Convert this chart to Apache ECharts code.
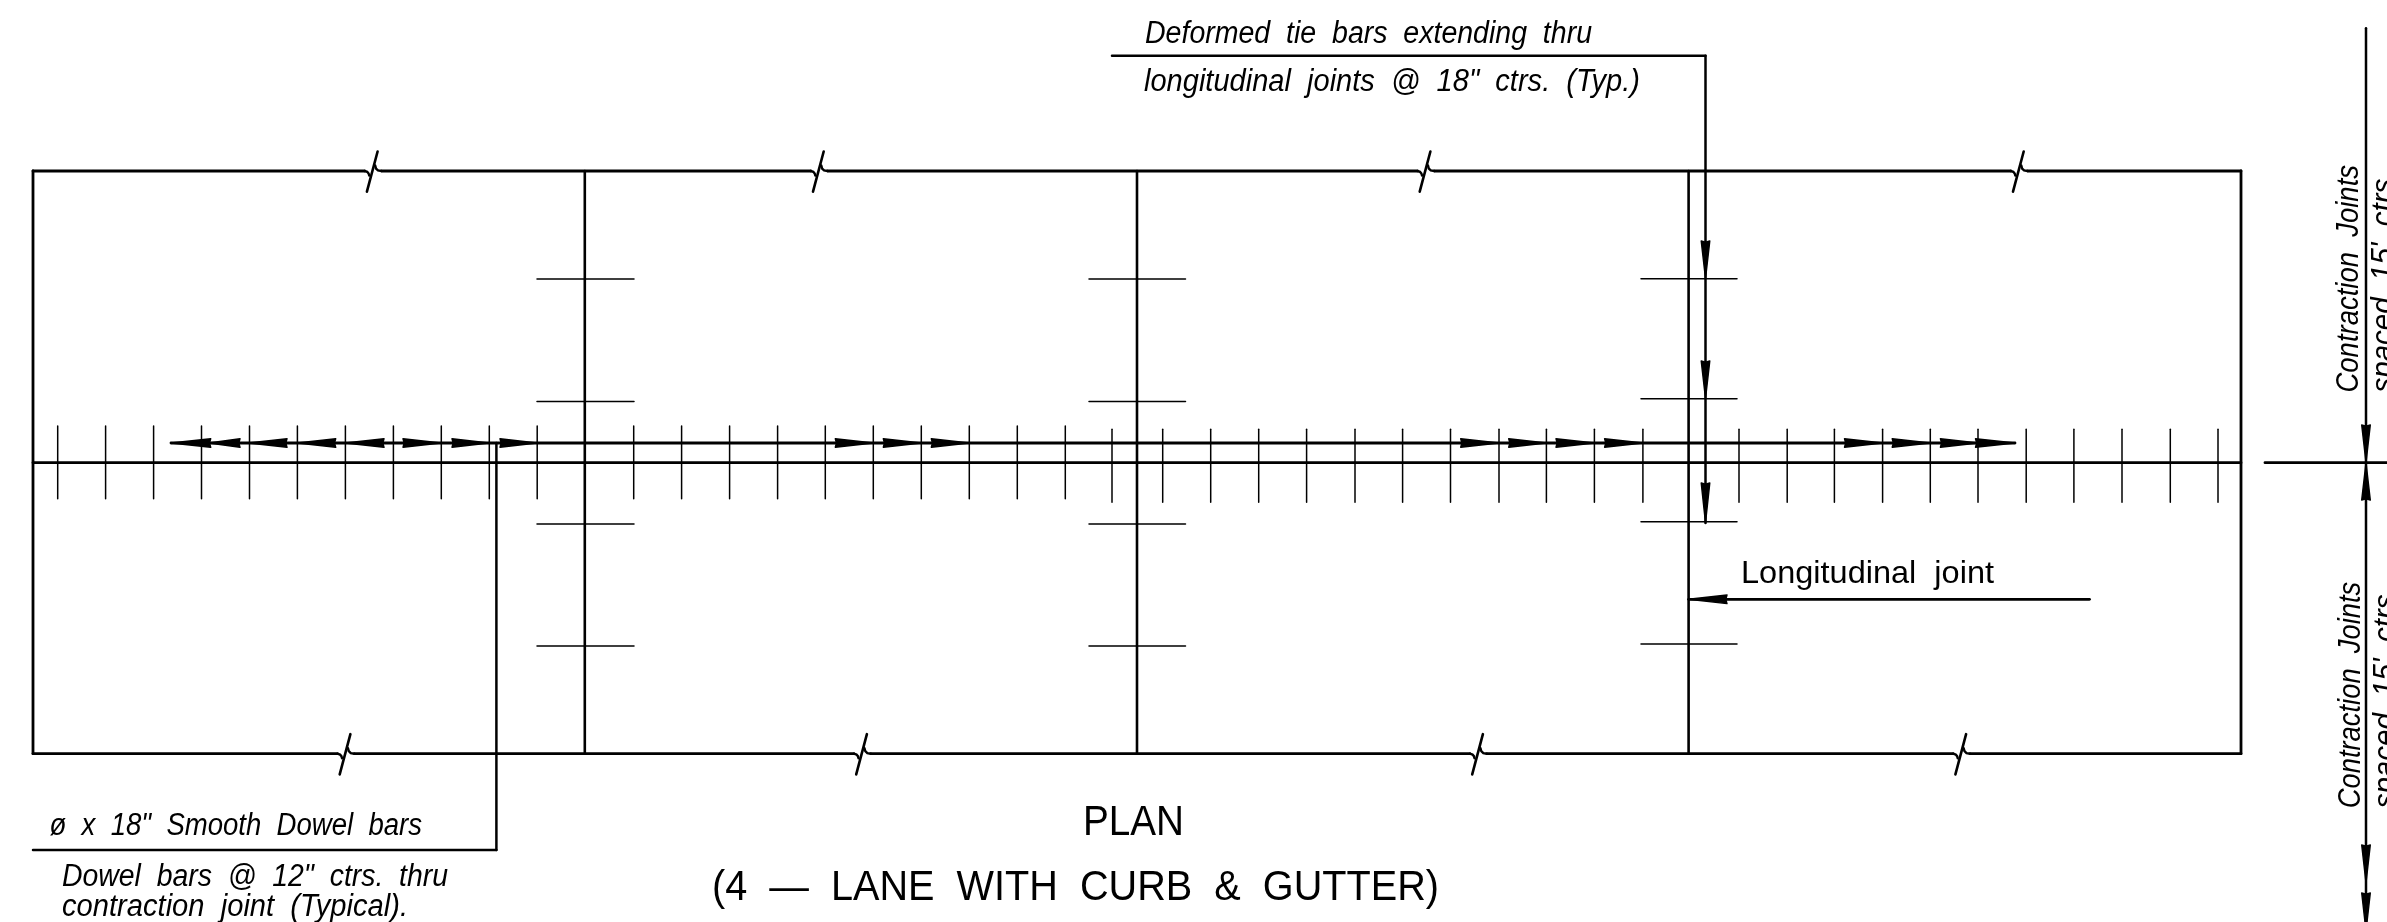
<!DOCTYPE html>
<html>
<head>
<meta charset="utf-8">
<style>html,body{margin:0;padding:0;background:#fff;overflow:hidden}#c{width:2387px;height:922px}</style>
<script src="https://cdn.jsdelivr.net/npm/echarts@6/dist/echarts.min.js"></script>
</head>
<body>
<div id="c"></div>
<script>
var slabX = [33, 2241];
var slabY = [171, 753.7];
var centreLineY = 462.7;
var dowelBarY = 443;
var jointX = [584.8, 1137, 1688.6];
var topBreakX = [372.2, 818.3, 1425, 2018.3];
var bottomBreakX = [345, 861.5, 1477.5, 1960.7];
var dowelTicksA = [57.7,105.6,153.6,201.5,249.5,297.4,345.4,393.4,441.3,489.3,537.2,633.7,681.6,729.6,777.6,825.3,873.3,921.3,969.3,1017.3,1065.3];
var dowelTicksB = [1112,1162.7,1210.7,1258.7,1306.6,1355,1402.6,1450.5,1499,1546.4,1594.4,1642.9,1739,1787.2,1834.4,1882.6,1930.3,1978,2026.2,2073.9,2122,2170.3,2218];
var tieBars = [
  [537, 634, 279], [537, 634, 401.5], [537, 634, 524], [537, 634, 646],
  [1089, 1185.5, 279], [1089, 1185.5, 401.5], [1089, 1185.5, 524], [1089, 1185.5, 646],
  [1641, 1737, 278.7], [1641, 1737, 398.7], [1641, 1737, 521.7], [1641, 1737, 644]
];
var dowelArrows = [
  [171,210.7],[209,240],[248.5,287],[297.4,335.7],[345.4,384],
  [441,403],[489,452],[537,500],
  [873.3,835.3],[921.3,883.3],[969.3,931.3],
  [1499,1460.7],[1546.4,1508.7],[1594.4,1556],[1642.9,1604.6],
  [1882.6,1844.5],[1930.3,1892.2],[1978,1940.4],[2015,1975.5]
];
var leaderArrows = [
  [1705.5,278.7,1705.5,241],[1705.5,398.7,1705.5,361],[1705.5,523,1705.5,483],
  [1688.6,599.3,1727,599.3],
  [2366,462.7,2366,425],[2366,462.7,2366,500],[2366,883,2366,845],[2366,931,2366,893]
];
var heavySegments = [
  [171,443,2015,443],
  [33,462.7,2241,462.7],
  [2265,462.7,2387,462.7],
  [1688.6,599.3,2089.5,599.3],
  [33,171,33,753.7],
  [2241,171,2241,753.7]
];
var mediumSegments = [
  [1112,55.7,1705.5,55.7],[1705.5,55.7,1705.5,523],
  [496.4,443,496.4,850],[33,850,496.4,850],
  [2366,28.3,2366,922]
];
var italicLabels = [
  ['Deformed  tie  bars  extending  thru', 1145, 34, 447],
  ['longitudinal  joints  @  18"  ctrs.  (Typ.)', 1144, 82, 496],
  ['ø  x  18"  Smooth  Dowel  bars', 49.5, 826, 372.5],
  ['Dowel  bars  @  12"  ctrs.  thru', 62, 877, 386],
  ['contraction  joint  (Typical).', 62, 907.5, 346]
];
var uprightLabels = [
  ['Longitudinal  joint', 1741, 574.5, 253, 32],
  ['PLAN', 1083, 823.5, 101, 42],
  ['(4  —  LANE  WITH  CURB  &  GUTTER)', 712, 888, 727, 43]
];
var verticalLabels = [
  ['Contraction  Joints', 2349, 392.5, 227.5],
  ['spaced  15\'  ctrs.', 2384, 392.5, 222],
  ['Contraction  Joints', 2351, 808.3, 226.6],
  ['spaced  15\'  ctrs.', 2386, 808.3, 222]
];

var italicFont = 'italic 31px "Liberation Sans"';
var canvasCtx = document.createElement('canvas').getContext('2d');
function fitScale(text, font, width) {
  canvasCtx.font = font;
  return width / canvasCtx.measureText(text).width;
}
function tickRows(xs, y0, y1) { return xs.map(function (x) { return [x, y0, x, y1]; }); }
function frameRows(breaks, y) {
  var rows = [], start = slabX[0];
  breaks.forEach(function (b) { rows.push([start, y, b - 7.6, y]); start = b + 9.4; });
  rows.push([start, y, slabX[1], y]);
  return rows;
}
function segSeries(rows, width) {
  return {
    type: 'custom', silent: true, data: rows, encode: { x: [0, 2], y: [1, 3] },
    renderItem: function (p, api) {
      var a = api.coord([api.value(0), api.value(1)]), b = api.coord([api.value(2), api.value(3)]);
      return { type: 'line', shape: { x1: a[0], y1: a[1], x2: b[0], y2: b[1] },
        style: { stroke: '#000', lineWidth: width, lineCap: 'round', fill: null } };
    }
  };
}
function arrowSeries(rows) {
  return {
    type: 'custom', silent: true, data: rows, encode: { x: [0, 2], y: [1, 3] },
    renderItem: function (p, api) {
      var t = api.coord([api.value(0), api.value(1)]), e = api.coord([api.value(2), api.value(3)]);
      var dx = e[0] - t[0], dy = e[1] - t[1], L = Math.sqrt(dx * dx + dy * dy), nx = -dy / L * 4.3, ny = dx / L * 4.3;
      return { type: 'polygon', shape: { points: [t, [e[0] + nx, e[1] + ny], [e[0] - dx / L * 1.2, e[1] - dy / L * 1.2], [e[0] - nx, e[1] - ny]] },
        style: { fill: '#000', stroke: '#000', lineWidth: 1.4, lineJoin: 'round' } };
    }
  };
}
function breakSeries(rows) {
  var left = [[-7.6,0],[-5,0.8],[-3.6,2.5],[-3,4.5]], right = [[3,-5.5],[3.8,-2.5],[5.8,-0.6],[9.4,0]], slash = [[5.4,-19.5],[-5.3,20.7]];
  return {
    type: 'custom', silent: true, data: rows, encode: { x: 0, y: 1 },
    renderItem: function (p, api) {
      var c = api.coord([api.value(0), api.value(1)]);
      function pts(l) { return l.map(function (o) { return [c[0] + o[0], c[1] + o[1]]; }); }
      function pl(l, w) { return { type: 'polyline', shape: { points: pts(l) }, style: { stroke: '#000', lineWidth: w, fill: null, lineCap: 'round' } }; }
      return { type: 'group', children: [pl(left, 2.4), pl(right, 2.4), pl(slash, 2.6)] };
    }
  };
}
function textSeries(rows, fontFor, rot) {
  return {
    type: 'custom', silent: true, data: rows.map(function (r) { return [r[1], r[2]]; }), encode: { x: 0, y: 1 },
    renderItem: function (p, api) {
      var r = rows[p.dataIndex], c = api.coord([api.value(0), api.value(1)]), f = fontFor(r);
      return { type: 'text', x: c[0], y: c[1], rotation: rot, scaleX: fitScale(r[0], f, r[3]), scaleY: 1,
        style: { text: r[0], x: 0, y: 0, font: f, fill: '#000', align: 'left', verticalAlign: 'middle' } };
    }
  };
}
var chart = echarts.init(document.getElementById('c'), null, { renderer: 'canvas' });
chart.setOption({
  animation: false,
  backgroundColor: '#fff',
  grid: { left: 0, right: 0, top: 0, bottom: 0 },
  xAxis: { type: 'value', min: 0, max: 2387, show: false },
  yAxis: { type: 'value', min: 0, max: 922, inverse: true, show: false },
  series: [
    segSeries(tickRows(dowelTicksA, 426, 498.7), 1.5),
    segSeries(tickRows(dowelTicksB, 429.3, 502.3), 1.5),
    segSeries(tieBars.map(function (t) { return [t[0], t[2], t[1], t[2]]; }), 1.5),
    segSeries(tickRows(jointX, slabY[0], slabY[1]), 2.6),
    segSeries(mediumSegments, 2.5),
    segSeries(heavySegments, 2.8),
    segSeries(frameRows(topBreakX, slabY[0]), 2.8),
    segSeries(frameRows(bottomBreakX, slabY[1]), 2.8),
    breakSeries(topBreakX.map(function (x) { return [x, slabY[0]]; })),
    breakSeries(bottomBreakX.map(function (x) { return [x, slabY[1]]; })),
    arrowSeries(dowelArrows.map(function (a) { return [a[0], dowelBarY, a[1], dowelBarY]; })),
    arrowSeries(leaderArrows),
    textSeries(italicLabels, function () { return italicFont; }, 0),
    textSeries(uprightLabels, function (r) { return r[4] + 'px "Liberation Sans"'; }, 0),
    textSeries(verticalLabels, function () { return italicFont; }, Math.PI / 2)
  ]
});
</script>
</body>
</html>
